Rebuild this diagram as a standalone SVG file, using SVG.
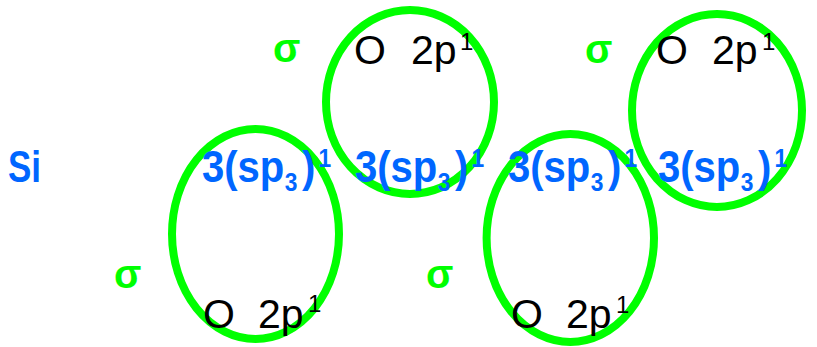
<svg xmlns="http://www.w3.org/2000/svg" width="817" height="347" viewBox="0 0 817 347">
<style>
.orb{fill:none;stroke:#00ff00;stroke-width:8}
.sig{font-family:"Liberation Sans",Arial,sans-serif;font-weight:bold;font-size:40px;fill:#00ff00}
.o{font-family:"Liberation Sans",Arial,sans-serif;font-size:41px;fill:#000}
.o .sup{font-size:24px}
.b{font-family:"Liberation Sans",Arial,sans-serif;font-weight:bold;font-size:44px;fill:#0066ff}
.b .sm{font-size:25px}
</style>
<rect width="817" height="347" fill="#fff"/>
<g id="connectors"/>
<g id="orbital-o1"><ellipse class="orb" cx="410" cy="102" rx="84" ry="92"/></g>
<g id="orbital-o2"><ellipse class="orb" cx="255.5" cy="234" rx="83.5" ry="105"/></g>
<g id="orbital-o3"><ellipse class="orb" cx="570.3" cy="238" rx="83.7" ry="104"/></g>
<g id="orbital-o4"><ellipse class="orb" cx="717" cy="110.5" rx="85" ry="96.5"/></g>
<g id="si"><text class="b" x="8" y="182" textLength="33" lengthAdjust="spacingAndGlyphs">Si</text></g>
<g id="sigma-1"><text class="sig" x="273" y="62">σ</text></g>
<g id="sigma-2"><text class="sig" x="585" y="63">σ</text></g>
<g id="sigma-3"><text class="sig" x="114" y="288">σ</text></g>
<g id="sigma-4"><text class="sig" x="426" y="288">σ</text></g>
<g id="o-top-1"><text class="o" x="354" y="64">O <tspan x="411">2p</tspan><tspan class="sup" x="460" y="50">1</tspan></text></g>
<g id="o-top-2"><text class="o" x="656" y="64">O <tspan x="712">2p</tspan><tspan class="sup" x="762" y="50">1</tspan></text></g>
<g id="o-bot-1"><text class="o" x="203" y="328">O <tspan x="258">2p</tspan><tspan class="sup" x="308" y="312">1</tspan></text></g>
<g id="o-bot-2"><text class="o" x="511" y="328">O <tspan x="566">2p</tspan><tspan class="sup" x="616" y="313">1</tspan></text></g>
<g id="sp3-1" transform="translate(202,0) scale(0.91,1)"><text class="b" x="0" y="182">3(sp<tspan class="sm" x="91" y="191">3</tspan><tspan x="110" y="182">)</tspan><tspan class="sm" x="128" y="167">1</tspan></text></g>
<g id="sp3-2" transform="translate(355,0) scale(0.91,1)"><text class="b" x="0" y="182">3(sp<tspan class="sm" x="91" y="191">3</tspan><tspan x="110" y="182">)</tspan><tspan class="sm" x="128" y="167">1</tspan></text></g>
<g id="sp3-3" transform="translate(508,0) scale(0.91,1)"><text class="b" x="0" y="182">3(sp<tspan class="sm" x="91" y="191">3</tspan><tspan x="110" y="182">)</tspan><tspan class="sm" x="128" y="167">1</tspan></text></g>
<g id="sp3-4" transform="translate(658,0) scale(0.91,1)"><text class="b" x="0" y="182">3(sp<tspan class="sm" x="91" y="191">3</tspan><tspan x="110" y="182">)</tspan><tspan class="sm" x="128" y="167">1</tspan></text></g>
</svg>
